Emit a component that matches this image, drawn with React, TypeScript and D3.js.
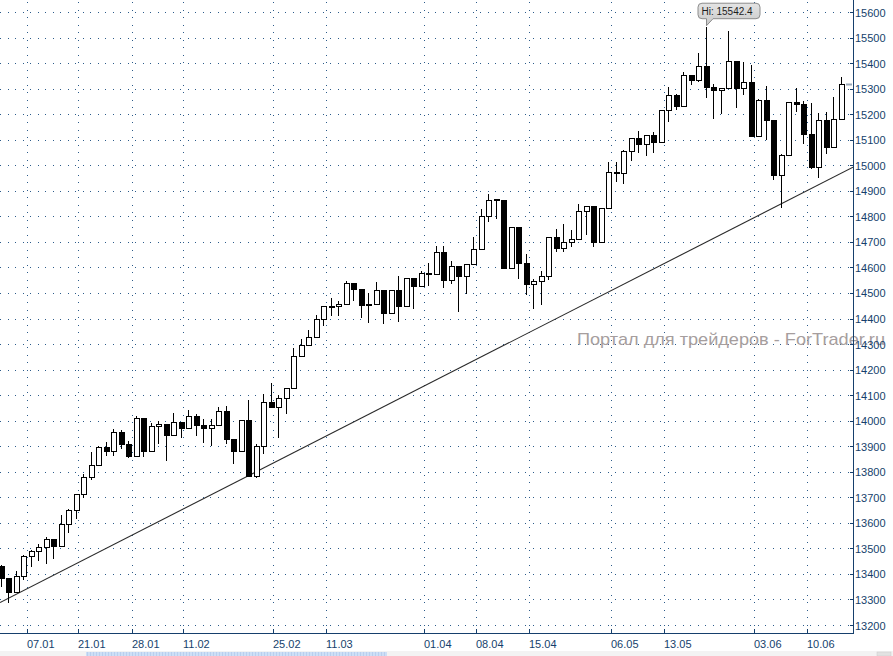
import React from 'react';
import * as d3 from 'd3';

// ---- Data (DJIA daily candles, 07.01 .. 18.06) ----
const dates = [
  '07.01','08.01','09.01','10.01','11.01','14.01','15.01','16.01','17.01','18.01',
  '22.01','23.01','24.01','25.01','28.01','29.01','30.01','31.01','01.02','04.02',
  '05.02','06.02','07.02','08.02','11.02','12.02','13.02','14.02','15.02','19.02',
  '20.02','21.02','22.02','25.02','26.02','27.02','28.02','01.03','04.03','05.03',
  '06.03','07.03','08.03','11.03','12.03','13.03','14.03','15.03','18.03','19.03',
  '20.03','21.03','22.03','25.03','26.03','27.03','28.03','01.04','02.04','03.04',
  '04.04','05.04','08.04','09.04','10.04','11.04','12.04','15.04','16.04','17.04',
  '18.04','19.04','22.04','23.04','24.04','25.04','26.04','29.04','30.04','01.05',
  '02.05','03.05','06.05','07.05','08.05','09.05','10.05','13.05','14.05','15.05',
  '16.05','17.05','20.05','21.05','22.05','23.05','24.05','28.05','29.05','30.05',
  '31.05','03.06','04.06','05.06','06.06','07.06','10.06','11.06','12.06','13.06',
  '14.06','17.06','18.06',
];

const opens = [
  13432, 13384, 13329, 13390, 13471, 13488, 13507, 13535, 13511, 13596,
  13650, 13712, 13779, 13825, 13896, 13882, 13954, 13910, 13860, 14010,
  13880, 13979, 13987, 13944, 13993, 13971, 14019, 13983, 13973, 13982,
  14036, 13928, 13881, 14001, 13784, 13900, 14075, 14054, 14090, 14128,
  14254, 14296, 14329, 14397, 14447, 14450, 14455, 14539, 14514, 14452,
  14456, 14512, 14421, 14512, 14448, 14560, 14526, 14579, 14573, 14662,
  14550, 14606, 14565, 14613, 14673, 14802, 14866, 14865, 14599, 14757,
  14619, 14537, 14548, 14567, 14719, 14676, 14701, 14713, 14819, 14840,
  14701, 14832, 14974, 14969, 15056, 15105, 15083, 15118, 15092, 15215,
  15276, 15233, 15354, 15335, 15388, 15307, 15294, 15303, 15409, 15303,
  15325, 15116, 15254, 15178, 14961, 15041, 15248, 15239, 15122, 14995,
  15176, 15070, 15180,
];

const highs = [
  13435, 13384, 13411, 13474, 13495, 13517, 13546, 13535, 13631, 13655,
  13713, 13790, 13878, 13900, 13918, 13966, 13965, 13922, 14018, 14010,
  13990, 14000, 13987, 14030, 13993, 14040, 14025, 14005, 14005, 14052,
  14059, 13928, 14003, 14081, 13910, 14103, 14146, 14100, 14128, 14286,
  14320, 14355, 14414, 14448, 14479, 14470, 14545, 14539, 14514, 14500,
  14544, 14512, 14512, 14566, 14560, 14560, 14585, 14619, 14685, 14684,
  14625, 14606, 14615, 14718, 14827, 14889, 14866, 14865, 14760, 14757,
  14651, 14555, 14587, 14719, 14750, 14770, 14747, 14848, 14840, 14840,
  14833, 15014, 15014, 15060, 15106, 15134, 15120, 15130, 15215, 15305,
  15280, 15364, 15353, 15441, 15542.4, 15318, 15303, 15526, 15409, 15404,
  15394, 15260, 15310, 15173, 15043, 15248, 15301, 15253, 15245, 15206,
  15207, 15266, 15347,
];

const lows = [
  13353, 13292, 13329, 13380, 13432, 13455, 13442, 13464, 13511, 13566,
  13618, 13700, 13770, 13825, 13864, 13867, 13894, 13856, 13860, 13862,
  13880, 13911, 13846, 13944, 13937, 13971, 13944, 13918, 13903, 13982,
  13911, 13833, 13881, 13784, 13780, 13875, 14054, 13937, 14029, 14128,
  14254, 14296, 14329, 14375, 14414, 14414, 14455, 14472, 14405, 14385,
  14456, 14381, 14421, 14392, 14448, 14440, 14526, 14531, 14573, 14525,
  14538, 14431, 14499, 14613, 14673, 14782, 14792, 14599, 14599, 14560,
  14495, 14442, 14456, 14553, 14665, 14665, 14684, 14713, 14731, 14685,
  14701, 14832, 14940, 14930, 15020, 15050, 15039, 15053, 15092, 15174,
  15219, 15233, 15317, 15330, 15268, 15184, 15203, 15303, 15229, 15280,
  15116, 15116, 15102, 14945, 14838, 15041, 15214, 15088, 14988, 14955,
  15049, 15070, 15180,
];

const closes = [
  13384, 13329, 13390, 13471, 13488, 13507, 13535, 13511, 13596, 13650,
  13712, 13779, 13825, 13896, 13882, 13954, 13910, 13860, 14010, 13880,
  13979, 13987, 13944, 13993, 13971, 14019, 13983, 13973, 13982, 14036,
  13928, 13881, 14001, 13784, 13900, 14075, 14054, 14090, 14128, 14254,
  14296, 14329, 14397, 14447, 14450, 14455, 14539, 14514, 14452, 14456,
  14512, 14421, 14512, 14448, 14560, 14526, 14579, 14573, 14662, 14550,
  14606, 14565, 14613, 14673, 14802, 14865, 14865, 14599, 14757, 14619,
  14537, 14548, 14567, 14719, 14676, 14701, 14713, 14819, 14840, 14701,
  14832, 14974, 14969, 15056, 15105, 15083, 15118, 15092, 15215, 15276,
  15233, 15354, 15335, 15388, 15307, 15294, 15303, 15409, 15303, 15325,
  15116, 15254, 15178, 14961, 15041, 15248, 15239, 15122, 14995, 15176,
  15070, 15180, 15318,
];

// bottom axis labels and their (fractional) bar positions
const timeLabels = ['07.01','21.01','28.01','11.02','25.02','11.03','01.04','08.04','15.04','06.05','13.05','03.06','10.06'];
const timeLabelPos = [3.47, 10.35, 17.47, 24.35, 36.35, 43.37, 56.48, 63.37, 70.48, 81.37, 88.48, 100.48, 107.47];

// right axis price labels
const priceTicks = [13200, 13300, 13400, 13500, 13600, 13700, 13800, 13900, 14000, 14100, 14200, 14300,
  14400, 14500, 14600, 14700, 14800, 14900, 15000, 15100, 15200, 15300, 15400, 15500, 15600];

// support trend line anchors (bar index, price)
const trendIdx = [33, 104];
const trendPrice = [13784, 14848];

const watermark = 'Портал для трейдеров - ForTrader.ru';

const W = 893;
const H = 656;
const PLOT_R = 853;
const PLOT_B = 633;
const FONT = '"Liberation Sans", Arial, sans-serif';
const NAVY = '#163f6c';
const DOT = '#2c5b8a';

export default function App() {
  const n = closes.length;
  const x = d3.scaleLinear().domain([0, n - 1]).range([0.7, 840.7]);
  const y = d3.scaleLinear().domain([13200, 15600]).range([625, 12]);

  const slope = (trendPrice[1] - trendPrice[0]) / (trendIdx[1] - trendIdx[0]);
  const tp = (i: number) => trendPrice[0] + slope * (i - trendIdx[0]);
  const i0 = x.invert(0);
  const i1 = x.invert(PLOT_R);

  const hiIdx = highs.indexOf(d3.max(highs) as number);
  const hiVal = highs[hiIdx];
  const hx = Math.round(x(hiIdx)) + 0.5;
  const hy = y(hiVal) - 1;
  const bx0 = hx - 8.5;
  const bx1 = hx + 53.5;
  const by0 = hy - 22.5;
  const by1 = hy - 7;
  const r = 4;
  const callout = `M ${bx0 + r} ${by0} H ${bx1 - r} Q ${bx1} ${by0} ${bx1} ${by0 + r} V ${by1 - r} Q ${bx1} ${by1} ${bx1 - r} ${by1} H ${hx + 6.5} L ${hx} ${hy} V ${by1} H ${bx0 + r} Q ${bx0} ${by1} ${bx0} ${by1 - r} V ${by0 + r} Q ${bx0} ${by0} ${bx0 + r} ${by0} Z`;

  const last = closes[n - 1];

  return (
    <svg width={W} height={H} style={{ position: 'absolute', left: 0, top: 0, background: '#fff' }}
      fontFamily={FONT}>
      <defs>
        <clipPath id="plot"><rect x={0} y={0} width={PLOT_R} height={PLOT_B} /></clipPath>
        <linearGradient id="hiGrad" x1="0" y1="0" x2="0" y2="1">
          <stop offset="0" stopColor="#e4e4e4" />
          <stop offset="1" stopColor="#c8c8c8" />
        </linearGradient>
        <pattern id="thumb" width="3" height="6" patternUnits="userSpaceOnUse">
          <rect width="3" height="6" fill="#cddff6" />
          <rect width="1" height="6" fill="#b9cfee" />
        </pattern>
      </defs>
      <rect x={0} y={0} width={W} height={H} fill="#fff" />

      {/* grid */}
      <g stroke={DOT} strokeWidth={1} strokeDasharray="1 6.5" shapeRendering="crispEdges">
        {priceTicks.map((p) => (
          <line key={'h' + p} x1={0} x2={PLOT_R - 3} y1={Math.round(y(p)) + 0.5} y2={Math.round(y(p)) + 0.5} />
        ))}
        {timeLabelPos.map((t, i) => (
          <line key={'v' + i} x1={Math.round(x(t)) + 0.5} x2={Math.round(x(t)) + 0.5} y1={2} y2={PLOT_B - 4} />
        ))}
      </g>

      {/* watermark */}
      <text x={577} y={345} fontSize={17} fill="#a69e9e" textLength={308} lengthAdjust="spacingAndGlyphs">{watermark}</text>

      <g clipPath="url(#plot)">
        {/* trend line */}
        <line x1={x(i0)} y1={y(tp(i0))} x2={x(i1)} y2={y(tp(i1))} stroke="#2a2a2a" strokeWidth={1.1} />

        {/* candles */}
        <g shapeRendering="crispEdges">
          {closes.map((c, i) => {
            const o = opens[i];
            const cx = Math.round(x(i));
            const up = c >= o;
            const top = Math.round(y(Math.max(o, c)));
            const bot = Math.round(y(Math.min(o, c)));
            const h = Math.max(bot - top, 1);
            return (
              <g key={dates[i]}>
                <line x1={cx + 0.5} x2={cx + 0.5} y1={Math.round(y(highs[i]))} y2={Math.round(y(lows[i])) + 1} stroke="#000" strokeWidth={1} />
                <rect x={cx - 2 + 0.5} y={top + 0.5} width={5} height={h} fill={up ? '#fff' : '#000'} stroke="#000" strokeWidth={1} />
              </g>
            );
          })}
        </g>
      </g>

      {/* Hi callout */}
      <path d={callout} fill="url(#hiGrad)" stroke="#8c8c8c" strokeWidth={1} />
      <text x={bx0 + 3.5} y={by1 - 3.5} fontSize={10} fill="#1e1e1e">{`Hi: ${hiVal.toFixed(1)}`}</text>

      {/* last price marker */}
      <line x1={846} x2={852} y1={Math.round(y(last)) + 0.5} y2={Math.round(y(last)) + 0.5} stroke="#9aa8b8" strokeWidth={2} />

      {/* axes */}
      <g stroke={NAVY} strokeWidth={1} shapeRendering="crispEdges">
        <line x1={PLOT_R + 0.5} x2={PLOT_R + 0.5} y1={0} y2={PLOT_B + 1} />
        <line x1={0} x2={PLOT_R + 1} y1={PLOT_B + 0.5} y2={PLOT_B + 0.5} />
        {priceTicks.map((p) => (
          <line key={'rt' + p} x1={PLOT_R - 3} x2={PLOT_R} y1={Math.round(y(p)) + 0.5} y2={Math.round(y(p)) + 0.5} />
        ))}
        {timeLabelPos.map((t, i) => (
          <line key={'bt' + i} x1={Math.round(x(t)) + 0.5} x2={Math.round(x(t)) + 0.5} y1={PLOT_B - 4} y2={PLOT_B} />
        ))}
      </g>
      <g fontSize={11} fill={NAVY}>
        {priceTicks.map((p) => (
          <text key={'rl' + p} x={PLOT_R + 2} y={y(p) + 4.5}>{p}</text>
        ))}
        {timeLabels.map((l, i) => (
          <text key={'bl' + i} x={Math.round(x(timeLabelPos[i]))} y={648}>{l}</text>
        ))}
      </g>

      {/* bottom scroll strip */}
      <rect x={0} y={651} width={W} height={5} fill="#f3f3f3" />
      <rect x={86} y={652} width={301} height={4} fill="url(#thumb)" />
      <rect x={877} y={652} width={14} height={4} fill="#e2e2e2" stroke="#c9c9c9" strokeWidth={0.5} />
    </svg>
  );
}
